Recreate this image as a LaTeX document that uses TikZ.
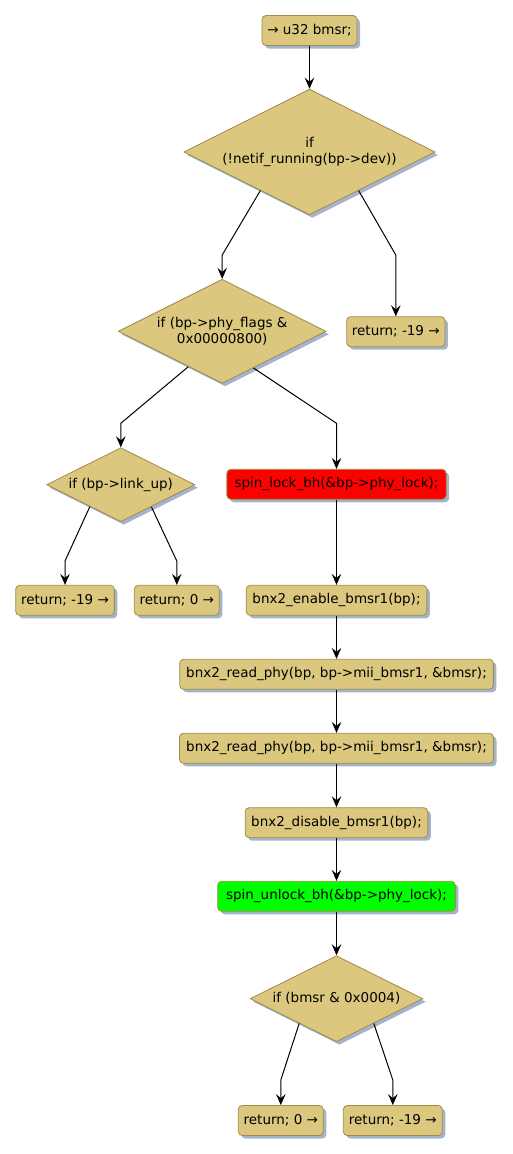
\documentclass[tikz,border=0pt]{standalone}
\usepackage{fontspec}
\setmainfont{DejaVu Sans}
\usetikzlibrary{shapes.geometric,arrows.meta,shadows,calc}
\definecolor{actfill}{RGB}{219,200,126}
\definecolor{actline}{RGB}{160,140,72}
\definecolor{shad}{RGB}{165,180,205}
\tikzset{
  nodebase/.style={draw=actline, line width=0.8pt, font=\fontsize{13.5pt}{16pt}\selectfont, text=black,
    drop shadow={shadow xshift=3pt, shadow yshift=-3pt, fill=shad, opacity=1}},
  actbox/.style={nodebase, fill=actfill, rectangle, rounded corners=4pt, minimum height=30pt, inner xsep=3pt, inner ysep=0pt},
  decision/.style={nodebase, fill=actfill, diamond, inner sep=0pt, aspect=2, align=center},
  arr/.style={draw=black, line width=1pt, -{Stealth[length=11pt,width=9.5pt,inset=4pt]}}
}
\begin{document}
\begin{tikzpicture}[x=1pt,y=-1pt]
\useasboundingbox (0,0) rectangle (512,1154);
\node[actbox, minimum width=95pt] (start) at (309.5,30.5) {→ u32 bmsr;};
\node[decision, minimum width=251.3pt, minimum height=125.7pt] (d1) at (309.5,152) {if\\(!netif\_running(bp->dev))};
\node[decision, minimum width=207.7pt, minimum height=104pt] (d2) at (222.2,331.3) {if (bp->phy\_flags \&\\0x00000800)};
\node[actbox, minimum width=98.3pt] (ret1) at (395.8,331.7) {return; -19 →};
\node[decision, minimum width=148.3pt, minimum height=74pt] (d3) at (120.8,484.7) {if (bp->link\_up)};
\node[actbox, fill=red, minimum width=219.3pt] (lock) at (336.5,484.3) {spin\_lock\_bh(\&bp->phy\_lock);};
\node[actbox, minimum width=98.7pt] (ret2) at (65,600.3) {return; -19 →};
\node[actbox, minimum width=85pt] (ret3) at (176.8,600.3) {return; 0 →};
\node[actbox, minimum width=180.7pt] (en) at (336.5,600.3) {bnx2\_enable\_bmsr1(bp);};
\node[actbox, minimum width=313.7pt] (rp1) at (336.5,674.3) {bnx2\_read\_phy(bp, bp->mii\_bmsr1, \&bmsr);};
\node[actbox, minimum width=314pt] (rp2) at (336.5,748.3) {bnx2\_read\_phy(bp, bp->mii\_bmsr1, \&bmsr);};
\node[actbox, minimum width=182.7pt] (dis) at (336.5,822.7) {bnx2\_disable\_bmsr1(bp);};
\node[actbox, fill=green, minimum width=237.7pt] (unlock) at (336.5,896.3) {spin\_unlock\_bh(\&bp->phy\_lock);};
\node[decision, minimum width=172.7pt, minimum height=86pt] (d4) at (336.5,998.7) {if (bmsr \& 0x0004)};
\node[actbox, minimum width=85pt] (ret4) at (280.8,1120.5) {return; 0 →};
\node[actbox, minimum width=99pt] (ret5) at (392.8,1120.5) {return; -19 →};
\coordinate (j1) at (0,255);
\coordinate (j2) at (0,423.3);
\coordinate (j3) at (0,561);
\coordinate (j4) at (0,1080);
\draw[arr] (start.south) -- (d1.north);
\draw[arr] ($(d1.west)!0.61!(d1.south)$) -- (d2.north |- j1) -- (d2.north);
\draw[arr] ($(d1.east)!0.61!(d1.south)$) -- (ret1.north |- j1) -- (ret1.north);
\draw[arr] ($(d2.west)!0.675!(d2.south)$) -- (d3.north |- j2) -- (d3.north);
\draw[arr] ($(d2.east)!0.70!(d2.south)$) -- (lock.north |- j2) -- (lock.north);
\draw[arr] ($(d3.west)!0.585!(d3.south)$) -- (ret2.north |- j3) -- (ret2.north);
\draw[arr] ($(d3.east)!0.59!(d3.south)$) -- (ret3.north |- j3) -- (ret3.north);
\draw[arr] (lock.south) -- (en.north);
\draw[arr] (en.south) -- (rp1.north);
\draw[arr] (rp1.south) -- (rp2.north);
\draw[arr] (rp2.south) -- (dis.north);
\draw[arr] (dis.south) -- (unlock.north);
\draw[arr] (unlock.south) -- (d4.north);
\draw[arr] ($(d4.west)!0.57!(d4.south)$) -- (ret4.north |- j4) -- (ret4.north);
\draw[arr] ($(d4.east)!0.57!(d4.south)$) -- (ret5.north |- j4) -- (ret5.north);
\end{tikzpicture}
\end{document}
